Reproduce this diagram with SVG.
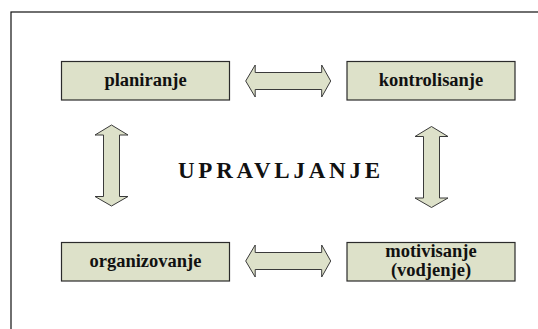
<svg xmlns="http://www.w3.org/2000/svg" width="538" height="329" viewBox="0 0 538 329">
  <defs>
    <style>
      .box { fill: #dde1c9; stroke: #2b2b2b; stroke-width: 1.2; }
      .arrow { fill: #dde1c9; stroke: #3a3a3a; stroke-width: 1; }
      text { font-family: 'Liberation Serif', 'Times New Roman', serif; font-weight: bold; fill: #111; }
      .label { font-size: 18.5px; text-anchor: middle; }
      .title { font-size: 23px; }
    </style>
  </defs>

  <rect width="538" height="329" fill="#ffffff"/>
  <!-- outer frame -->
  <rect x="11" y="12" width="540" height="330" fill="none" stroke="#111" stroke-width="1.2"/>

  <text class="title" x="178" y="178" textLength="202" lengthAdjust="spacing">UPRAVLJANJE</text>

  <!-- double-headed block arrows -->
  <g id="connectors">
    <path class="arrow" d="M245.7,81 L255.2,65 L255.2,72.5 L321.7,72.5 L321.7,65 L330.7,81 L321.7,97 L321.7,89.5 L255.2,89.5 L255.2,97 Z"/>
    <path class="arrow" d="M245.7,261 L255.2,245 L255.2,252.5 L321.7,252.5 L321.7,245 L330.7,261 L321.7,277 L321.7,269.5 L255.2,269.5 L255.2,277 Z"/>
    <path class="arrow" d="M111.5,125 L128,135 L119.5,135 L119.5,196.5 L128,196.5 L111.5,206 L95,196.5 L103.5,196.5 L103.5,135 L95,135 Z"/>
    <path class="arrow" d="M431.5,126.5 L448,136.5 L439.5,136.5 L439.5,198 L448,198 L431.5,207.5 L415,198 L423.5,198 L423.5,136.5 L415,136.5 Z"/>
  </g>

  <g id="planiranje">
    <rect class="box" x="61.5" y="61.5" width="168" height="38.5"/>
    <text class="label" x="145.5" y="86">planiranje</text>
  </g>

  <g id="kontrolisanje">
    <rect class="box" x="347" y="61.5" width="168" height="38.5"/>
    <text class="label" x="431" y="86">kontrolisanje</text>
  </g>

  <g id="organizovanje">
    <rect class="box" x="61.5" y="242.5" width="168" height="38.5"/>
    <text class="label" x="145.5" y="267">organizovanje</text>
  </g>

  <g id="motivisanje">
    <rect class="box" x="347" y="242.5" width="168" height="38.5"/>
    <text class="label" x="431" y="256.5">motivisanje</text>
    <text class="label" x="431" y="276">(vodjenje)</text>
  </g>
</svg>
